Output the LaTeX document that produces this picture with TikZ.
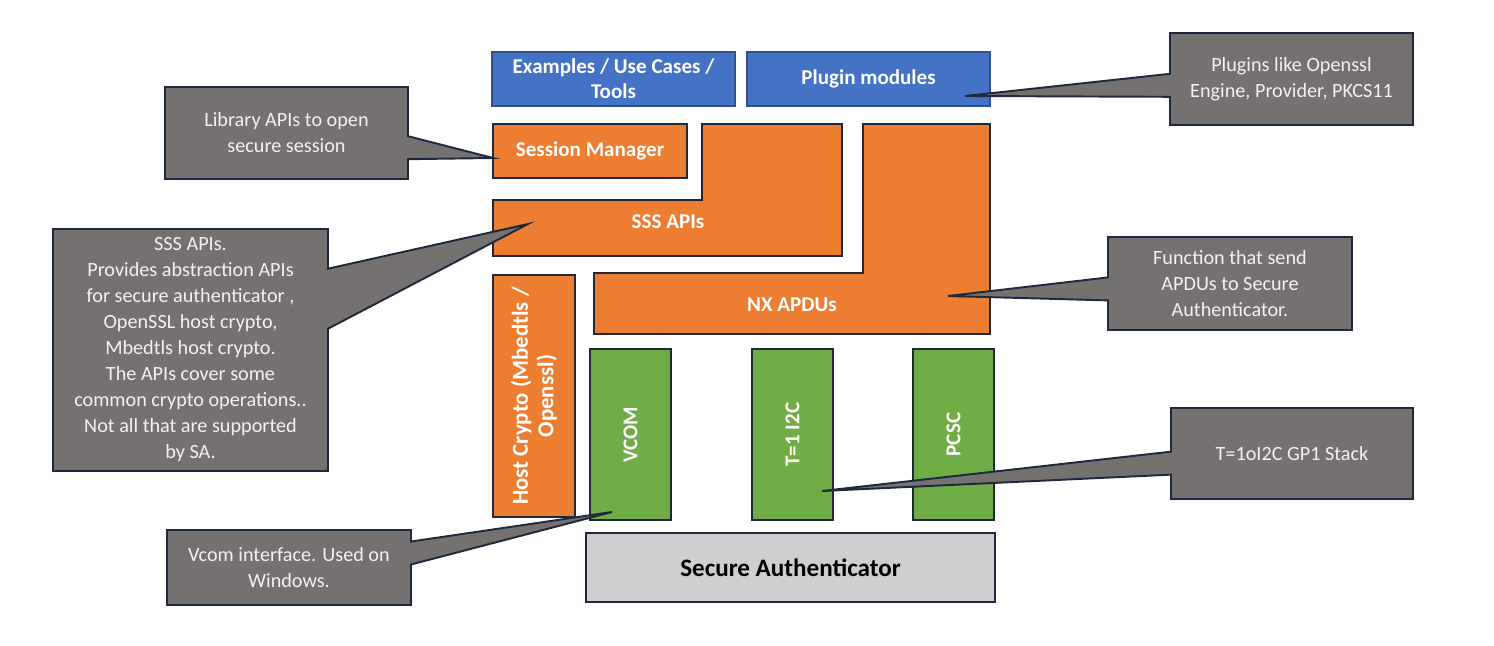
\documentclass[tikz,border=0pt]{standalone}
\usepackage{fontspec}
\setmainfont{Carlito}
\usetikzlibrary{shapes.callouts}
\definecolor{saBlue}{HTML}{4472C4}
\definecolor{saBlueLine}{HTML}{2F528F}
\definecolor{saOrange}{HTML}{ED7D31}
\definecolor{saGreen}{HTML}{70AD47}
\definecolor{saChip}{HTML}{D0CECE}
\definecolor{noteGray}{HTML}{767171}
\definecolor{noteText}{HTML}{F2F2F2}
\definecolor{frame}{HTML}{1E2A3C}

\begin{document}
\begin{tikzpicture}[x=0.2mm,y=-0.2mm,
  box/.style={draw=frame,line width=1.1pt,text=white,inner sep=0pt,align=center,
    font=\bfseries\fontsize{12}{14.2}\selectfont},
  bluebox/.style={box,fill=saBlue,draw=saBlueLine,minimum width=48.6mm,minimum height=10.8mm},
  orangebox/.style={box,fill=saOrange},
  greenbox/.style={box,fill=saGreen,rotate=90,minimum width=34.2mm,minimum height=16.2mm},
  note/.style={rectangle callout,draw=frame,line width=1.1pt,fill=noteGray,text=noteText,
    align=center,inner sep=0pt,callout pointer width=4.6mm,
    font=\fontsize{11.5}{14.8}\selectfont}]
\useasboundingbox (0,0) rectangle (1494,646);

\node[bluebox] (ex) at (613.5,79) {Examples / Use Cases /\\Tools};
\node[bluebox] (plug) at (868.5,79) {Plugin modules};
\node[orangebox,minimum width=38.8mm,minimum height=10.8mm] (sess) at (590,151) {Session Manager};
\draw[box,fill=saOrange] (702,124) -- (842,124) -- (842,256) -- (493,256) -- (493,200) -- (702,200) -- cycle;
\node[box,draw=none] (sss) at (668,222) {SSS APIs};
\draw[box,fill=saOrange] (863,124) -- (990,124) -- (990,334) -- (594,334) -- (594,273) -- (863,273) -- cycle;
\node[box,draw=none] (nx) at (792,305) {NX APDUs};
\node[orangebox,rotate=90,minimum width=48.4mm,minimum height=16.4mm,
  font=\bfseries\fontsize{13}{14.5}\selectfont] (host) at (534,396)
  {Host Crypto (Mbedtls /\\Openssl)};
\node[greenbox] (vcom) at (630.5,434.5) {VCOM};
\node[greenbox] (i2c) at (792.5,434.5) {T=1 I2C};
\node[greenbox] (pcsc) at (953.5,434.5) {PCSC};
\node[box,fill=saChip,text=black,minimum width=81.8mm,minimum height=13.8mm,
  font=\bfseries\fontsize{14.3}{17}\selectfont] (sa) at (790.5,567.5) {Secure Authenticator};

\coordinate (libtip) at (493,158);
\coordinate (ssstip) at (528,224);
\coordinate (plugtip) at (965,96);
\coordinate (nxtip) at (948,296);
\coordinate (i2ctip) at (822,491);
\coordinate (vcomtip) at (612,512);

\node[note,minimum width=48.6mm,minimum height=18.4mm,callout absolute pointer={(libtip)}] (libnote)
  at (286.5,133) {Library APIs to open\\secure session};
\node[note,minimum width=55mm,minimum height=48.4mm,callout pointer width=12mm,
  callout absolute pointer={(ssstip)}] (sssnote) at (190.5,350)
  {SSS APIs.\\Provides abstraction APIs\\for secure authenticator ,\\OpenSSL host crypto,\\
   Mbedtls host crypto.\\The APIs cover some\\common crypto operations..\\Not all that are supported\\by SA.};
\node[note,minimum width=48.6mm,minimum height=18.4mm,callout absolute pointer={(plugtip)}] (plugnote)
  at (1291.5,79) {Plugins like Openssl\\Engine, Provider, PKCS11};
\node[note,minimum width=48.8mm,minimum height=18.6mm,callout absolute pointer={(nxtip)}] (nxnote)
  at (1230,283.5) {Function that send\\APDUs to Secure\\Authenticator.};
\node[note,minimum width=48.4mm,minimum height=18.2mm,callout absolute pointer={(i2ctip)}] (i2cnote)
  at (1292,453.5) {T=1oI2C GP1 Stack};
\node[note,minimum width=48.8mm,minimum height=15mm,callout absolute pointer={(vcomtip)}] (vcomnote)
  at (289,567.5) {Vcom interface. Used on\\Windows.};
\end{tikzpicture}
\end{document}
